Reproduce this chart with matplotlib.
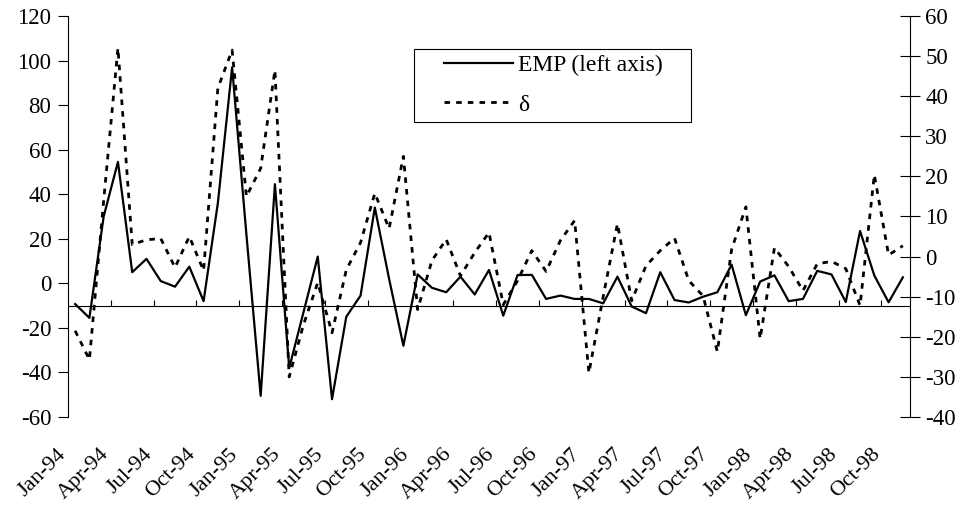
import matplotlib
matplotlib.use("Agg")
import matplotlib.pyplot as plt
import numpy as np
import pandas as pd
from matplotlib.legend_handler import HandlerLine2D

plt.rcParams['font.family'] = ['Liberation Serif', 'DejaVu Serif']
plt.rcParams['axes.unicode_minus'] = False

# monthly categories Jan-94 .. Nov-98
months = pd.date_range("1994-01-01", "1998-11-01", freq="MS").strftime("%b-%y")

# EMP (left axis)
emp = [-9.3, -15.5, 30, 54.5, 5, 11, 1, -1.5, 7.5, -8,
       36, 97, 22, -50.5, 44.5, -38, -13, 12, -52, -15,
       -5.5, 34, 2, -28, 4, -2, -4, 3, -5, 6,
       -14.5, 3.7, 3.8, -7, -5.5, -7, -7, -9, 3, -10.4,
       -13.4, 5, -7.5, -8.6, -6, -4, 8.4, -14.3, 0.8, 3.6,
       -8, -7, 5.6, 4, -8.4, 23.5, 3.5, -8.5, 2.7]

# delta (right axis)
delta = [-18.5, -25.7, 14, 52, 3, 4.2, 4.5, -2.7, 5, -3.5,
         42, 51.5, 15, 22, 46.5, -30, -17, -6.5, -19, -3.3,
         3.5, 15.8, 7, 25, -13.2, -1, 4.3, -4.8, 1, 6,
         -12, -6, 1.5, -3.7, 4, 9, -29, -10, 8.2, -11,
         -2.3, 1.5, 4.6, -6, -9.8, -23.7, 1.8, 12.4, -20.5, 2.2,
         -2.5, -8.5, -1.8, -1.2, -3, -12.2, 20.4, 0.4, 2.7]


class PaddedLine(HandlerLine2D):
    # legend line that starts a bit inside the handle box
    def get_xdata(self, legend, xdescent, ydescent, width, height, fontsize):
        xd = np.array([-xdescent + 17.5, -xdescent + width])
        return xd, xd


fig = plt.figure(figsize=(9.63, 5.05), dpi=100)
ax = fig.add_axes([68 / 963, 1 - 417 / 505, 842 / 963, 401 / 505])
ax2 = ax.twinx()

x = np.arange(len(emp))
l1, = ax.plot(x, emp, color='black', lw=1.6, label='EMP (left axis)')
l2, = ax2.plot(x, delta, color='black', lw=2.0, ls=(0, (2, 2.2)), label='δ')

ax.set_xlim(-0.5, len(emp) - 0.5)
ax.set_ylim(-60, 120)
ax.set_yticks(np.arange(-60, 121, 20))
ax2.set_ylim(-40, 60)
ax2.set_yticks(np.arange(-40, 61, 10))

for s in ['top', 'right']:
    ax.spines[s].set_visible(False)
ax.spines['bottom'].set_position(('data', -10))
for s in ['top', 'bottom', 'left']:
    ax2.spines[s].set_visible(False)

ax.set_xticks(np.arange(2.5, len(emp) - 1, 3))
ax.tick_params(axis='x', direction='in', length=4, labelbottom=False)
ax.tick_params(axis='y', direction='out', length=7, labelsize=16.5, pad=5)
ax2.tick_params(axis='y', direction='inout', length=14, labelsize=16.5, pad=4)

for i in range(0, len(months), 3):
    ax.annotate(months[i], xy=(i, 0), xycoords=('data', 'axes fraction'),
                xytext=(-13, -20), textcoords='offset points',
                rotation=45, ha='right', va='top', rotation_mode='anchor',
                fontsize=16)

leg = ax2.legend(handles=[l1, l2], loc='upper left',
                 bbox_to_anchor=(0.411, 0.9177, 0.329, 0.0), mode='expand',
                 borderaxespad=0, borderpad=0.25, handlelength=3.95,
                 handletextpad=0.22, labelspacing=0.75, fontsize=17,
                 fancybox=False, framealpha=1, edgecolor='black',
                 handler_map={l1: PaddedLine(), l2: PaddedLine()})
leg.get_frame().set_linewidth(0.8)

fig.savefig("out.png", dpi=100)
